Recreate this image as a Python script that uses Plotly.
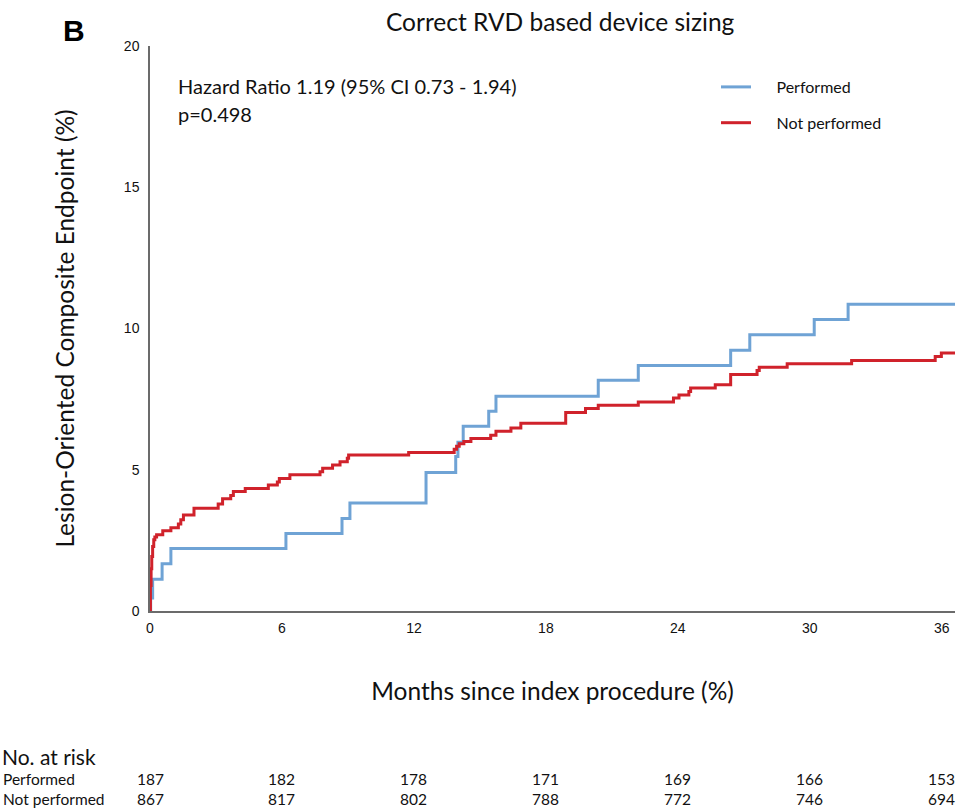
import plotly.graph_objects as go

# ---- data ----
months_ticks = [0, 6, 12, 18, 24, 30, 36]
y_ticks = [0, 5, 10, 15, 20]

perf_t = [0, 0.03, 0.12, 0.55, 0.95, 6.18, 8.73, 9.09, 12.55, 13.9, 14.0, 14.24, 15.4, 15.73,
          20.38, 22.2, 26.4, 27.27, 30.2, 31.74, 36.6]
perf_y = [0, 0.46, 1.12, 1.67, 2.21, 2.74, 3.27, 3.82, 4.9, 5.47, 5.97, 6.54, 7.07, 7.6,
          8.17, 8.69, 9.23, 9.78, 10.32, 10.86, 10.86]

notperf_t = [0, 0.02, 0.05, 0.08, 0.12, 0.17, 0.22, 0.3, 0.58, 0.95, 1.29, 1.4, 1.52, 2.0,
             3.1, 3.3, 3.67, 3.79, 4.33, 5.38, 5.79, 5.88, 6.36, 7.73, 7.85, 8.3, 8.64,
             8.97, 9.03, 11.76, 13.83, 13.94, 14.06, 14.27, 14.59, 15.49, 15.73, 16.41,
             16.86, 18.9, 19.8, 20.38, 22.2, 23.8, 24.05, 24.5, 24.58, 25.7, 26.4, 27.6,
             27.7, 28.97, 31.9, 35.7, 35.98, 36.6]
notperf_y = [0, 0.9, 1.5, 1.93, 2.28, 2.52, 2.62, 2.7, 2.84, 2.95, 3.08, 3.23, 3.4, 3.64,
             3.79, 3.97, 4.09, 4.23, 4.34, 4.46, 4.57, 4.69, 4.82, 4.93, 5.05, 5.17, 5.28,
             5.41, 5.52, 5.61, 5.73, 5.83, 5.92, 6.0, 6.11, 6.22, 6.36, 6.48,
             6.65, 7.03, 7.17, 7.28, 7.4, 7.54, 7.65, 7.77, 7.89, 8.01, 8.37, 8.51,
             8.63, 8.75, 8.87, 9.01, 9.13, 9.13]

risk_perf = [187, 182, 178, 171, 169, 166, 153]
risk_notperf = [867, 817, 802, 788, 772, 746, 694]

series_names = ["Performed", "Not performed"]
colors = ["#6fa3d5", "#d0222b"]

title_text = "Correct RVD based device sizing"
hr_lines = ["Hazard Ratio 1.19 (95% CI 0.73 - 1.94)", "p=0.498"]

FONT = "Lato, 'Open Sans', sans-serif"
NARROW = "'Liberation Sans Narrow', Lato, sans-serif"
ARIAL = "'Liberation Sans', Arial, sans-serif"

GAP = "\u00a0" * 5

fig = go.Figure()
fig.add_trace(go.Scatter(x=perf_t, y=perf_y, mode="lines", line_shape="hv",
                         line=dict(color=colors[0], width=3), name=GAP + series_names[0],
                         legendgroup="a"))
fig.add_trace(go.Scatter(x=notperf_t, y=notperf_y, mode="lines", line_shape="hv",
                         line=dict(color=colors[1], width=3), name=GAP + series_names[1],
                         legendgroup="b"))

W, H = 965, 808
L, R, T, B = 150, 10, 46, 197
pw, ph = W - L - R, H - T - B


def px(xp):
    return (xp - L) / pw


def py(yp):
    return (H - B - yp) / ph


fig.update_layout(
    width=W, height=H,
    margin=dict(l=L, r=R, t=T, b=B),
    paper_bgcolor="white", plot_bgcolor="white",
    showlegend=True,
    legend=dict(x=px(716), y=py(70), xanchor="left", yanchor="top",
                font=dict(family=FONT, size=16, color="#111"),
                bgcolor="rgba(0,0,0,0)", tracegroupgap=12, itemwidth=30),
    xaxis=dict(range=[0, 36.6], tickvals=months_ticks, showgrid=False, zeroline=False,
               showline=True, linecolor="#6b6b6b", linewidth=1.5, ticks="",
               ticklabelstandoff=3,
               tickfont=dict(family=ARIAL, size=14, color="#111"),
               title=dict(text="Months since index procedure (%)",
                          font=dict(family=FONT, size=24.5, color="#111"), standoff=48)),
    yaxis=dict(range=[0, 20], tickvals=y_ticks, showgrid=False, zeroline=False,
               showline=True, linecolor="#6b6b6b", linewidth=1.5, ticks="",
               ticklabelstandoff=6,
               tickfont=dict(family=ARIAL, size=14, color="#111"),
               title=dict(text="Lesion-Oriented Composite Endpoint (%)",
                          font=dict(family=FONT, size=24.5, color="#111"), standoff=42)),
)

annotations = [
    dict(text=title_text, x=px(560), y=py(22), xref="paper", yref="paper", showarrow=False,
         xanchor="center", yanchor="middle", font=dict(family=FONT, size=24.5, color="#111")),
    dict(text="<b>B</b>", x=px(74), y=py(30), xref="paper", yref="paper", showarrow=False,
         xanchor="center", yanchor="middle",
         font=dict(family=ARIAL, size=30, color="#000")),
    dict(text=hr_lines[0], x=px(176), y=py(86), xref="paper", yref="paper", xanchor="left",
         yanchor="middle", align="left", showarrow=False,
         font=dict(family=FONT, size=20, color="#111")),
    dict(text=hr_lines[1], x=px(176), y=py(114), xref="paper", yref="paper", xanchor="left",
         yanchor="middle", align="left", showarrow=False,
         font=dict(family=FONT, size=20, color="#111")),
    dict(text="No. at risk", x=px(0), y=py(756), xref="paper", yref="paper", xanchor="left",
         yanchor="middle", showarrow=False, font=dict(family=NARROW, size=21, color="#111")),
    dict(text=series_names[0], x=px(1), y=py(779), xref="paper", yref="paper", xanchor="left",
         yanchor="middle", showarrow=False, font=dict(family=NARROW, size=15.5, color="#111")),
    dict(text=series_names[1], x=px(1), y=py(799), xref="paper", yref="paper", xanchor="left",
         yanchor="middle", showarrow=False, font=dict(family=NARROW, size=15.5, color="#111")),
]
for m, a, b in zip(months_ticks, risk_perf, risk_notperf):
    annotations.append(dict(text=str(a), x=m, xref="x", y=py(779), yref="paper",
                            xanchor="center", yanchor="middle", showarrow=False,
                            font=dict(family=NARROW, size=15.5, color="#111")))
    annotations.append(dict(text=str(b), x=m, xref="x", y=py(799), yref="paper",
                            xanchor="center", yanchor="middle", showarrow=False,
                            font=dict(family=NARROW, size=15.5, color="#111")))

fig.update_layout(annotations=annotations)
fig.write_html("out.html")
